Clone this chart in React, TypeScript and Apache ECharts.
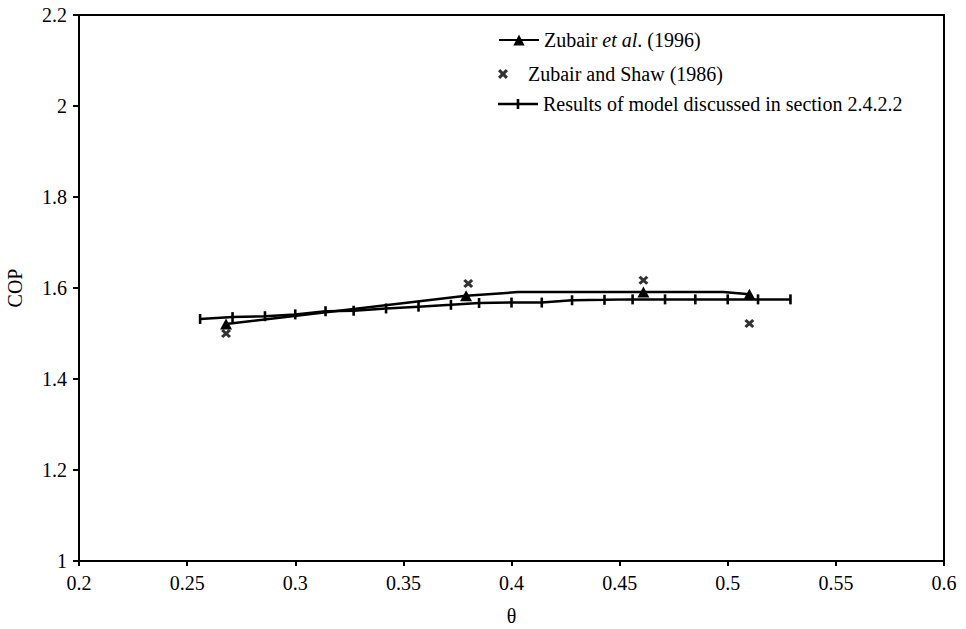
import React, { useEffect, useRef } from "react";
import * as echarts from "echarts";

// Zubair et al. (1996) — line with triangle markers at measured points
const zubair1996X = [0.268, 0.379, 0.403, 0.461, 0.498, 0.510];
const zubair1996Y = [1.521, 1.583, 1.591, 1.591, 1.591, 1.586];
const zubair1996Marked = [true, true, false, true, false, true];

// Zubair and Shaw (1986) — scatter points
const shawX = [0.268, 0.380, 0.461, 0.510];
const shawY = [1.500, 1.610, 1.617, 1.522];

// Results of model discussed in section 2.4.2.2
const modelX = [0.256, 0.271, 0.286, 0.300, 0.314, 0.327, 0.342, 0.357, 0.372, 0.385,
  0.400, 0.414, 0.428, 0.443, 0.456, 0.471, 0.485, 0.500, 0.514, 0.529];
const modelY = [1.532, 1.536, 1.538, 1.542, 1.549, 1.550, 1.555, 1.559, 1.563, 1.567,
  1.568, 1.568, 1.573, 1.574, 1.575, 1.575, 1.575, 1.575, 1.575, 1.575];

const seriesNames = [
  "Zubair et al. (1996)",
  "Zubair and Shaw (1986)",
  "Results of model discussed in section 2.4.2.2",
];

const FONT = "Liberation Serif";
const XMARK = "path://M0,2.2 L2.2,0 L5,2.8 L7.8,0 L10,2.2 L7.2,5 L10,7.8 L7.8,10 L5,7.2 L2.2,10 L0,7.8 L2.8,5 Z";
const MODEL_LEGEND_ICON = "path://M0,5.8 L40,5.8 L40,8.2 L0,8.2 Z M18.7,2 L21.3,2 L21.3,12 L18.7,12 Z";

const legendBase = {
  orient: "vertical",
  left: 493,
  itemWidth: 40,
  itemHeight: 14,
  selectedMode: false,
  textStyle: {
    fontFamily: FONT, fontSize: 20, color: "#000",
    rich: { i: { fontFamily: FONT, fontSize: 20, fontStyle: "italic", color: "#000" } },
  },
};

export default function App() {
  const ref = useRef<HTMLDivElement>(null);
  useEffect(() => {
    if (!ref.current) return;
    const chart = echarts.init(ref.current, undefined, { renderer: "svg" });
    const zData = zubair1996X.map((x, i) =>
      zubair1996Marked[i]
        ? { value: [x, zubair1996Y[i]] }
        : { value: [x, zubair1996Y[i]], symbol: "none" }
    );
    chart.setOption({
      animation: false,
      backgroundColor: "#fff",
      textStyle: { fontFamily: FONT, color: "#000" },
      grid: {
        left: 79, right: 22, top: 15, bottom: 68,
        outerBoundsMode: "none",
        containLabel: false,
        show: true, borderColor: "#000", borderWidth: 2, backgroundColor: "transparent",
      },
      legend: [
        {
          ...legendBase,
          top: 25,
          data: [seriesNames[0]],
          formatter: () => "Zubair {i|et al}. (1996)",
        },
        {
          ...legendBase,
          top: 59,
          itemHeight: 10,
          data: [seriesNames[1]],
        },
        {
          ...legendBase,
          top: 89,
          data: [{ name: seriesNames[2], icon: MODEL_LEGEND_ICON }],
        },
      ],
      xAxis: {
        type: "value",
        min: 0.2, max: 0.6, interval: 0.05,
        name: "θ",
        nameLocation: "middle",
        nameGap: 45,
        nameTextStyle: { fontFamily: FONT, fontSize: 20, color: "#000" },
        axisLine: { show: true, onZero: false, lineStyle: { color: "#000", width: 2 } },
        axisTick: { show: true, length: 5, lineStyle: { color: "#000", width: 2 } },
        axisLabel: { fontFamily: FONT, fontSize: 20, color: "#000", margin: 12 },
        splitLine: { show: false },
      },
      yAxis: {
        type: "value",
        min: 1, max: 2.2, interval: 0.2,
        name: "COP",
        nameLocation: "middle",
        nameGap: 54,
        nameRotate: 90,
        nameTextStyle: { fontFamily: FONT, fontSize: 20, color: "#000" },
        axisLine: { show: true, onZero: false, lineStyle: { color: "#000", width: 2 } },
        axisTick: { show: true, length: 6, lineStyle: { color: "#000", width: 2 } },
        axisLabel: { fontFamily: FONT, fontSize: 20, color: "#000", margin: 12 },
        splitLine: { show: false },
      },
      series: [
        {
          name: seriesNames[0],
          type: "line",
          data: zData,
          symbol: "triangle",
          symbolSize: [12, 11],
          showAllSymbol: true,
          itemStyle: { color: "#000" },
          lineStyle: { color: "#000", width: 2.5 },
          z: 3,
        },
        {
          name: seriesNames[1],
          type: "scatter",
          data: shawX.map((x, i) => [x, shawY[i]]),
          symbol: XMARK,
          symbolSize: [10, 9],
          itemStyle: { color: "#000" },
          z: 4,
        },
        {
          name: seriesNames[2],
          type: "line",
          data: modelX.map((x, i) => [x, modelY[i]]),
          symbol: "rect",
          symbolSize: [2.6, 10],
          showAllSymbol: true,
          itemStyle: { color: "#000" },
          lineStyle: { color: "#000", width: 2.5 },
          z: 2,
        },
      ],
    });
    return () => chart.dispose();
  }, []);
  return (
    <div
      ref={ref}
      style={{ position: "fixed", left: 0, top: 0, width: 966, height: 629, background: "#fff" }}
    />
  );
}
